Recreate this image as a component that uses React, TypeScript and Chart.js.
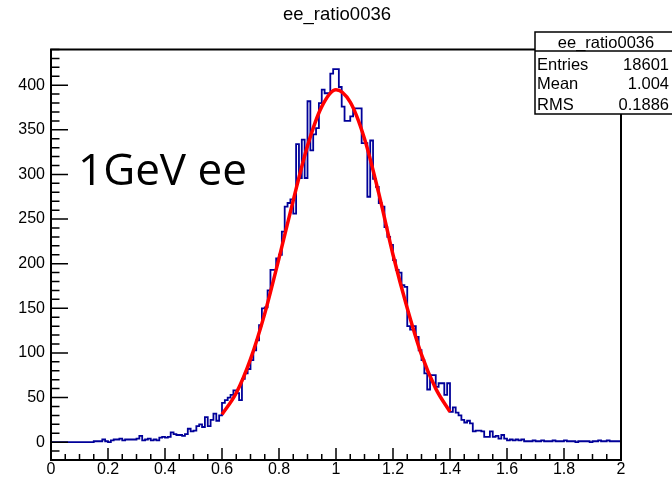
import React, { useEffect, useRef } from "react";
import { Chart, registerables } from "chart.js";

Chart.register(...registerables);

// ---------- data ----------
const histTitle = "ee_ratio0036";
const xMin = 0;
const xMax = 2;
const binWidth = 0.01;
// 200 bin contents (bin low edges 0.00 .. 1.99)
const counts = [
  0, 0, 0, 0, 0, 0, 0, 0, 0, 0,
  0, 0, 0, 0, 0, 1, 1, 1, 3, 1,
  0, 2, 3, 3, 4, 2, 3, 3, 3, 3,
  4, 7, 2, 3, 4, 2, 3, 2, 5, 6,
  5, 6, 11, 9, 8, 8, 7, 9, 15, 12,
  13, 18, 20, 17, 28, 18, 25, 32, 24, 30,
  44, 47, 50, 53, 58, 55, 47, 71, 77, 82,
  92, 103, 114, 131, 150, 151, 170, 193, 193, 206,
  210, 236, 264, 268, 272, 256, 334, 296, 339, 296,
  382, 327, 345, 352, 380, 395, 391, 391, 413, 418,
  418, 398, 376, 360, 360, 365, 374, 374, 374, 335,
  335, 275, 338, 295, 286, 268, 264, 241, 230, 221,
  204, 193, 190, 176, 174, 130, 126, 130, 118, 103,
  92, 77, 59, 75, 75, 62, 66, 66, 53, 66,
  34, 39, 33, 30, 25, 22, 24, 21, 12, 13,
  13, 12, 6, 6, 12, 6, 7, 4, 8, 4,
  2, 3, 2, 3, 2, 3, 1, 1, 1, 2,
  1, 1, 2, 1, 1, 1, 2, 1, 1, 1,
  2, 1, 1, 1, 0, 1, 1, 1, 1, 0,
  1, 1, 2, 1, 1, 2, 1, 1, 1, 1,
];
// fitted gaussian curve
const fitX = [0.6, 0.65, 0.7, 0.75, 0.8, 0.85, 0.9, 0.95, 1.0, 1.05, 1.1, 1.15, 1.2, 1.25, 1.3, 1.35, 1.4];
const fitY = [31, 55, 93, 144, 206, 271, 332, 376, 395, 381, 340, 279, 210, 150, 98, 60, 34];

const xTickValues = [0, 0.2, 0.4, 0.6, 0.8, 1, 1.2, 1.4, 1.6, 1.8, 2];
const yTickValues = [0, 50, 100, 150, 200, 250, 300, 350, 400];
const xMinorStep = 0.05;
const yMinorStep = 10;
const yMin = -20;
const yMax = 440;

const statsLabels = ["Entries", "Mean", "RMS"];
const statsValues = ["18601", "1.004", "0.1886"];
const annotationText = "1GeV ee";

const FONT = "'Liberation Sans', Arial, Helvetica, sans-serif";

const rootDecor = {
  id: "rootDecor",
  afterDatasetsDraw(chart: any) {
    const { ctx, chartArea: a, scales } = chart;
    const xs = scales.x;
    const ys = scales.y;
    ctx.save();
    ctx.strokeStyle = "#000";
    ctx.lineWidth = 1.5;
    ctx.beginPath();
    // y ticks (inside, on the left)
    const k0 = Math.ceil(yMin / yMinorStep);
    const k1 = Math.floor(yMax / yMinorStep);
    for (let k = k0; k <= k1; k++) {
      const v = k * yMinorStep;
      const py = ys.getPixelForValue(v);
      const major = yTickValues.includes(v);
      const len = major ? 17 : 8.5;
      ctx.moveTo(a.left, py);
      ctx.lineTo(a.left + len, py);
    }
    // x ticks (inside, at the bottom)
    const n = Math.round((xMax - xMin) / xMinorStep);
    for (let k = 0; k <= n; k++) {
      const v = xMin + k * xMinorStep;
      const px = xs.getPixelForValue(v);
      const major = xTickValues.some((t) => Math.abs(t - v) < 1e-9);
      const len = major ? 12 : 6;
      ctx.moveTo(px, a.bottom);
      ctx.lineTo(px, a.bottom - len);
    }
    ctx.stroke();
    // frame
    ctx.lineWidth = 2;
    ctx.strokeRect(a.left, a.top, a.right - a.left, a.bottom - a.top);

    // title
    ctx.fillStyle = "#000";
    ctx.font = `18.5px ${FONT}`;
    ctx.textAlign = "center";
    ctx.textBaseline = "alphabetic";
    ctx.fillText(histTitle, 337, 20);

    // annotation
    ctx.font = `44px 'Open Sans', sans-serif`;
    ctx.textAlign = "left";
    ctx.fillText(annotationText, 78, 185);

    // stats box
    const bx = 535, by = 32, bw = 142, bh = 82;
    ctx.fillStyle = "#fff";
    ctx.fillRect(bx, by, bw, bh);
    ctx.lineWidth = 1.5;
    ctx.strokeRect(bx, by, bw, bh);
    ctx.beginPath();
    ctx.moveTo(bx, 51);
    ctx.lineTo(bx + bw, 51);
    ctx.stroke();
    ctx.fillStyle = "#000";
    ctx.font = `16.5px ${FONT}`;
    ctx.textAlign = "center";
    ctx.fillText(histTitle, 606, 48);
    const baselines = [69.5, 89, 109.5];
    statsLabels.forEach((lab, i) => {
      ctx.textAlign = "left";
      ctx.fillText(lab, 537, baselines[i]);
      ctx.textAlign = "right";
      ctx.fillText(statsValues[i], 669, baselines[i]);
    });
    ctx.restore();
  },
};

export default function App() {
  const ref = useRef<HTMLCanvasElement>(null);
  useEffect(() => {
    if (!ref.current) return;
    const histPoints = counts.map((c, i) => ({ x: xMin + i * binWidth, y: c }));
    histPoints.push({ x: xMax, y: counts[counts.length - 1] });
    const fitPoints = fitX.map((x, i) => ({ x, y: fitY[i] }));
    const chart = new Chart(ref.current, {
      type: "line",
      data: {
        datasets: [
          {
            label: "fit",
            data: fitPoints,
            borderColor: "#ff0000",
            borderWidth: 3.5,
            pointRadius: 0,
            cubicInterpolationMode: "monotone",
            fill: false,
          },
          {
            label: histTitle,
            data: histPoints,
            borderColor: "#000099",
            borderWidth: 1.8,
            pointRadius: 0,
            stepped: true,
            fill: false,
          },
        ],
      },
      options: {
        animation: false,
        responsive: false,
        events: [],
        layout: { padding: { top: 49.5, right: 51, left: 0, bottom: 0 } },
        plugins: { legend: { display: false }, tooltip: { enabled: false }, title: { display: false } },
        scales: {
          x: {
            type: "linear",
            min: xMin,
            max: xMax,
            grid: { display: false, drawTicks: false },
            border: { display: false },
            afterBuildTicks: (s: any) => {
              s.ticks = xTickValues.map((v) => ({ value: v }));
            },
            afterFit: (s: any) => {
              s.height = 22;
            },
            ticks: {
              autoSkip: false,
              maxRotation: 0,
              padding: 0,
              color: "#000",
              font: { family: FONT, size: 16 },
              callback: (v: any) => String(+Number(v).toFixed(1)),
            },
          },
          y: {
            type: "linear",
            min: yMin,
            max: yMax,
            grid: { display: false, drawTicks: false },
            border: { display: false },
            afterBuildTicks: (s: any) => {
              s.ticks = yTickValues.map((v) => ({ value: v }));
            },
            afterFit: (s: any) => {
              s.width = 51;
            },
            ticks: {
              autoSkip: false,
              padding: 6,
              color: "#000",
              font: { family: FONT, size: 16 },
              callback: (v: any) => String(v),
            },
          },
        },
      },
      plugins: [rootDecor],
    });
    return () => chart.destroy();
  }, []);
  return (
    <div style={{ position: "absolute", left: 0, top: 0, width: 672, height: 482, background: "#fff" }}>
      <canvas ref={ref} width={672} height={482} style={{ display: "block" }} />
    </div>
  );
}
